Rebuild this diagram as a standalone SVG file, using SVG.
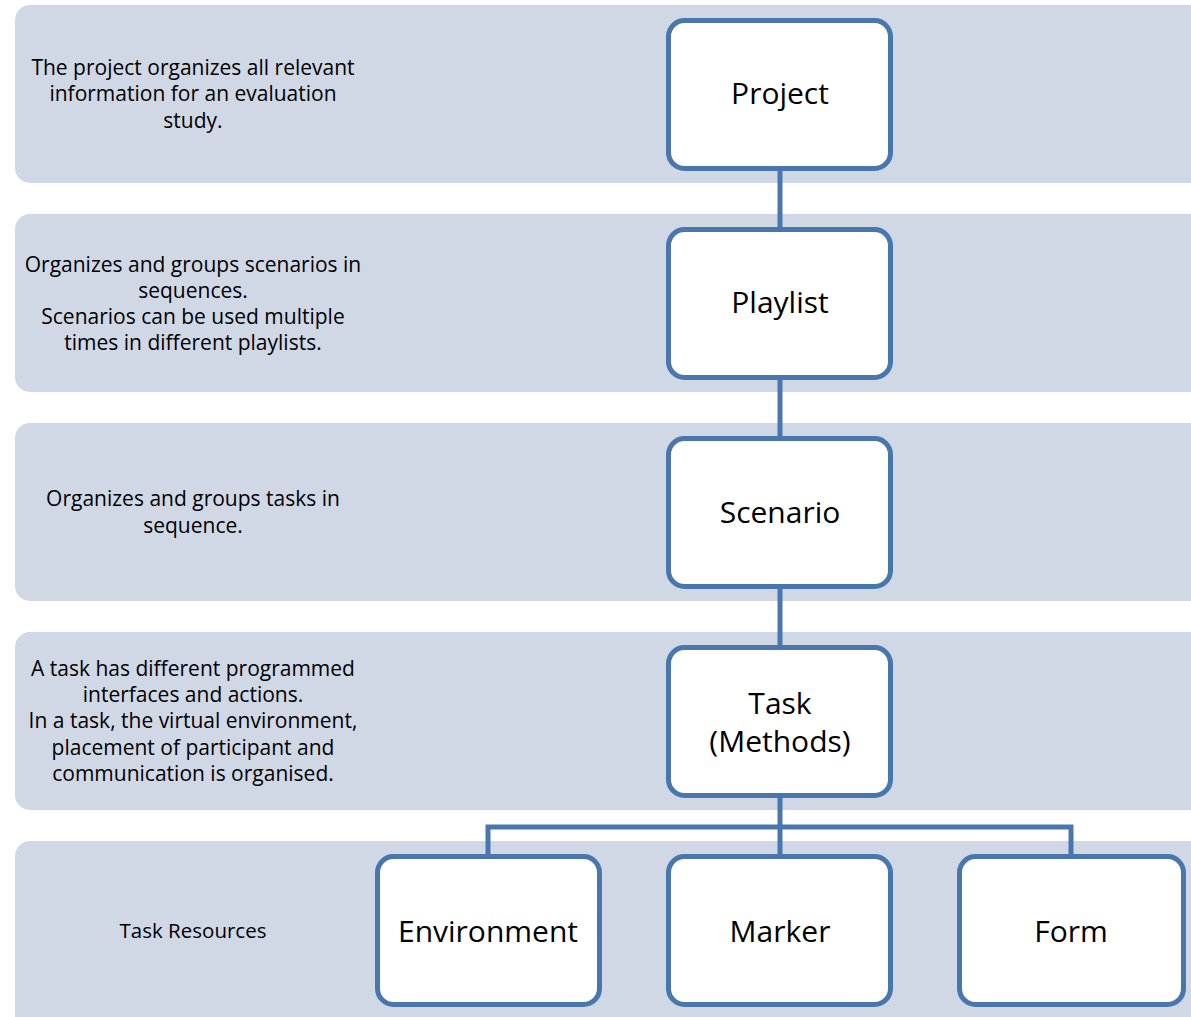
<svg xmlns="http://www.w3.org/2000/svg" width="1191" height="1017" viewBox="0 0 1191 1017">
<style>
.band{fill:#d0d8e6}
.node{fill:#ffffff;stroke:#4a76ae;stroke-width:5}
.conn{fill:none;stroke:#4a76ae;stroke-width:5}
.desc{font-family:"Open Sans","Liberation Sans",Arial,sans-serif;font-size:21px;fill:#000;text-anchor:middle}
.small{font-size:20.5px}
.lbl{font-family:"Open Sans","Liberation Sans",Arial,sans-serif;font-size:30px;fill:#000;text-anchor:middle}
</style>
<rect width="1191" height="1017" fill="#ffffff"/>
<g id="bands">
<rect class="band" x="15" y="5" width="1200" height="178" rx="15"/>
<rect class="band" x="15" y="214" width="1200" height="178" rx="15"/>
<rect class="band" x="15" y="423" width="1200" height="178" rx="15"/>
<rect class="band" x="15" y="632" width="1200" height="178" rx="15"/>
<rect class="band" x="15" y="841" width="1200" height="200" rx="15"/>
</g>
<g id="descriptions">
<text class="desc" x="193" y="75">The project organizes all relevant</text>
<text class="desc" x="193" y="101">information for an evaluation</text>
<text class="desc" x="193" y="128">study.</text>
<text class="desc" x="193" y="272">Organizes and groups scenarios in</text>
<text class="desc" x="193" y="298">sequences.</text>
<text class="desc" x="193" y="324">Scenarios can be used multiple</text>
<text class="desc" x="193" y="350">times in different playlists.</text>
<text class="desc" x="193" y="506">Organizes and groups tasks in</text>
<text class="desc" x="193" y="533">sequence.</text>
<text class="desc" x="193" y="676">A task has different programmed</text>
<text class="desc" x="193" y="702">interfaces and actions.</text>
<text class="desc" x="193" y="728">In a task, the virtual environment,</text>
<text class="desc" x="193" y="755">placement of participant and</text>
<text class="desc" x="193" y="781">communication is organised.</text>
<text class="desc small" x="193" y="938">Task Resources</text>
</g>
<g id="connectors">
<line class="conn" x1="780" y1="168" x2="780" y2="230"/>
<line class="conn" x1="780" y1="378" x2="780" y2="439"/>
<line class="conn" x1="780" y1="587" x2="780" y2="648"/>
<line class="conn" x1="780" y1="796" x2="780" y2="857"/>
<polyline class="conn" points="488,857 488,827 1071,827 1071,857"/>
</g>
<g id="project"><rect class="node" x="668.5" y="20.5" width="222" height="148" rx="16"/><text class="lbl" x="780" y="104">Project</text></g>
<g id="playlist"><rect class="node" x="668.5" y="229.5" width="222" height="148" rx="16"/><text class="lbl" x="780" y="313">Playlist</text></g>
<g id="scenario"><rect class="node" x="668.5" y="438.5" width="222" height="148" rx="16"/><text class="lbl" x="780" y="523">Scenario</text></g>
<g id="task"><rect class="node" x="668.5" y="647.5" width="222" height="148" rx="16"/><text class="lbl" x="780" y="714">Task</text><text class="lbl" x="780" y="752">(Methods)</text></g>
<g id="environment"><rect class="node" x="377.5" y="856.5" width="222" height="148" rx="16"/><text class="lbl" x="488" y="942">Environment</text></g>
<g id="marker"><rect class="node" x="668.5" y="856.5" width="222" height="148" rx="16"/><text class="lbl" x="780" y="942">Marker</text></g>
<g id="form"><rect class="node" x="959.5" y="856.5" width="224" height="148" rx="16"/><text class="lbl" x="1071" y="942">Form</text></g>
</svg>
